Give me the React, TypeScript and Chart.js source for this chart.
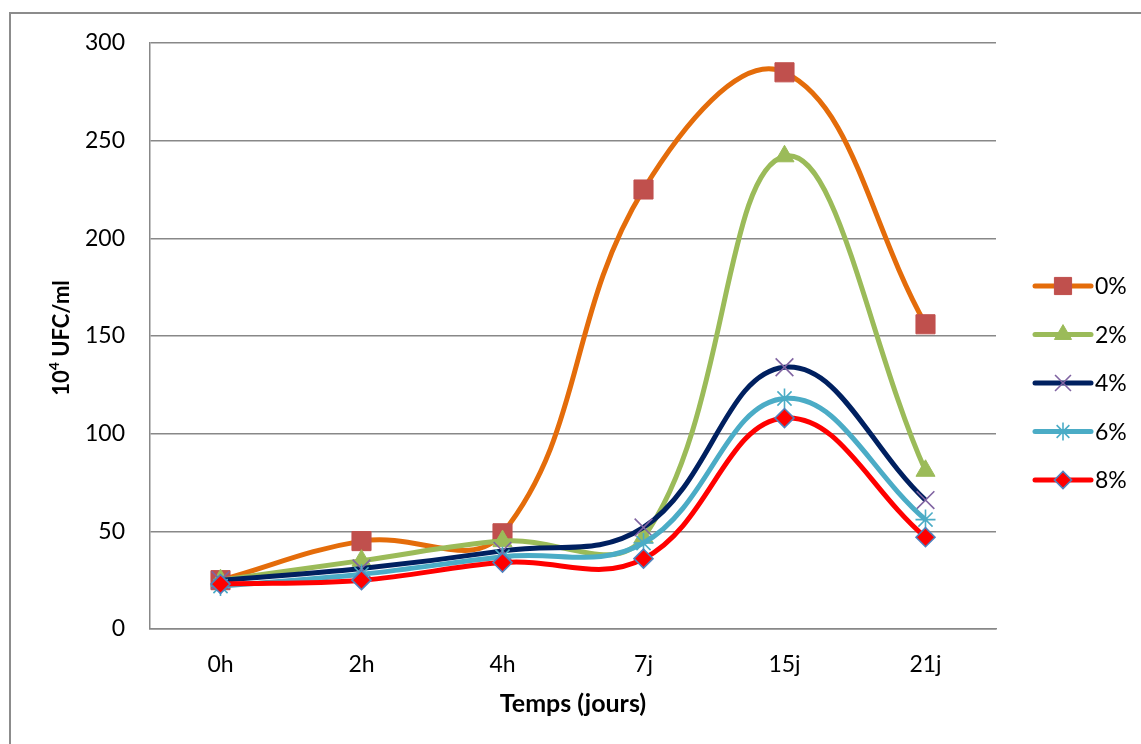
import React, { useEffect, useRef } from "react";
import { Chart, registerables } from "chart.js";
import { drawPoint } from "chart.js/helpers";

Chart.register(...registerables);

// Sampling times
const categories = ["0h", "2h", "4h", "7j", "15j", "21j"];

// Counts (10^4 UFC/ml) per concentration
const series0 = [25, 45, 49, 225, 285, 156];
const series2 = [25, 35, 45, 47, 242, 81];
const series4 = [25, 31, 40, 52, 134, 66];
const series6 = [22, 28, 37, 44, 118, 56];
const series8 = [23, 25, 34, 36, 108, 47];

const seriesLabels = ["0%", "2%", "4%", "6%", "8%"];
const yTicks = [0, 50, 100, 150, 200, 250, 300];

const FONT = "Lato, 'Open Sans', 'DejaVu Sans', sans-serif";
const GRID = "#888888";
const LINE_WIDTH = 5;

type Style = {
  line: string;
  pointStyle: string;
  radius: number;
  fill: string;
  stroke: string;
  strokeWidth: number;
};

const styles: Style[] = [
  { line: "#E46C0A", pointStyle: "rect", radius: 13.5, fill: "#C0504D", stroke: "#C0504D", strokeWidth: 1 },
  { line: "#9BBB59", pointStyle: "triangle", radius: 11, fill: "#9BBB59", stroke: "#9BBB59", strokeWidth: 1 },
  { line: "#002060", pointStyle: "crossRot", radius: 12.5, fill: "#8064A2", stroke: "#8064A2", strokeWidth: 1.6 },
  { line: "#4BACC6", pointStyle: "star", radius: 10, fill: "#4BACC6", stroke: "#4BACC6", strokeWidth: 1.6 },
  { line: "#FF0000", pointStyle: "rectRot", radius: 9.5, fill: "#FF0000", stroke: "#4F81BD", strokeWidth: 1.6 },
];

// Axis titles and the line+marker legend on the right
const decorations = {
  id: "decorations",
  afterDraw(chart: any) {
    const { ctx, chartArea } = chart;
    ctx.save();
    ctx.fillStyle = "#000";

    // x title
    ctx.font = `bold 25px ${FONT}`;
    ctx.textAlign = "center";
    ctx.textBaseline = "middle";
    ctx.fillText("Temps (jours)", (chartArea.left + chartArea.right) / 2, 704);

    // y title with superscript exponent
    ctx.save();
    ctx.translate(61, (chartArea.top + chartArea.bottom) / 2 + 2);
    ctx.rotate(-Math.PI / 2);
    const big = `bold 22px ${FONT}`;
    const small = `bold 14px ${FONT}`;
    ctx.font = big;
    const w1 = ctx.measureText("10").width;
    const w3 = ctx.measureText(" UFC/ml").width;
    ctx.font = small;
    const w2 = ctx.measureText("4").width;
    let x = -(w1 + w2 + w3) / 2;
    ctx.textAlign = "left";
    ctx.textBaseline = "alphabetic";
    ctx.font = big;
    ctx.fillText("10", x, 8);
    x += w1;
    ctx.font = small;
    ctx.fillText("4", x, -2);
    x += w2;
    ctx.font = big;
    ctx.fillText(" UFC/ml", x, 8);
    ctx.restore();

    // legend
    const x0 = 1035;
    const x1 = 1091;
    const yStart = 286;
    const gap = 48.5;
    seriesLabels.forEach((label, i) => {
      const s = styles[i];
      const y = yStart + i * gap;
      ctx.strokeStyle = s.line;
      ctx.lineWidth = LINE_WIDTH;
      ctx.lineCap = "round";
      ctx.beginPath();
      ctx.moveTo(x0, y);
      ctx.lineTo(x1, y);
      ctx.stroke();
      ctx.lineCap = "butt";
      ctx.fillStyle = s.fill;
      ctx.strokeStyle = s.stroke;
      ctx.lineWidth = s.strokeWidth;
      drawPoint(ctx, { pointStyle: s.pointStyle as any, radius: s.radius * 0.9, rotation: 0, borderWidth: s.strokeWidth }, (x0 + x1) / 2, y);
      ctx.fillStyle = "#000";
      ctx.font = `23px ${FONT}`;
      ctx.textAlign = "left";
      ctx.textBaseline = "middle";
      ctx.fillText(label, 1095, y + 1);
    });
    ctx.restore();
  },
};

export default function App() {
  const canvasRef = useRef<HTMLCanvasElement | null>(null);

  useEffect(() => {
    const canvas = canvasRef.current;
    if (!canvas) return;
    const values = [series0, series2, series4, series6, series8];
    const chart = new Chart(canvas, {
      type: "line",
      data: {
        labels: categories,
        datasets: values.map((data, i) => {
          const s = styles[i];
          return {
            label: seriesLabels[i],
            data,
            order: values.length - i,
            borderColor: s.line,
            borderWidth: LINE_WIDTH,
            tension: 0.4,
            fill: false,
            pointStyle: s.pointStyle as any,
            pointRadius: s.radius,
            pointBackgroundColor: s.fill,
            pointBorderColor: s.stroke,
            pointBorderWidth: s.strokeWidth,
            pointHoverRadius: s.radius,
          };
        }),
      },
      options: {
        responsive: false,
        animation: false,
        events: [],
        layout: { padding: { left: 0, top: 43, right: 145, bottom: 0 } },
        plugins: {
          legend: { display: false },
          tooltip: { enabled: false },
          title: { display: false },
        },
        scales: {
          x: {
            type: "category",
            offset: true,
            grid: { display: true, color: "rgba(0,0,0,0)", drawTicks: false },
            border: { display: true, color: GRID, width: 1.5 },
            ticks: { color: "#000", font: { family: FONT, size: 23 }, padding: 22 },
            afterFit(scale: any) {
              scale.height = 115;
              scale.paddingLeft = 0;
              scale.paddingRight = 0;
            },
          },
          y: {
            min: 0,
            max: 300,
            afterBuildTicks(scale: any) {
              scale.ticks = yTicks.map((v) => ({ value: v }));
            },
            grid: { color: GRID, lineWidth: 1.5, drawTicks: false },
            border: { display: true, color: GRID, width: 1.5 },
            ticks: { color: "#000", font: { family: FONT, size: 23 }, padding: 25 },
            afterFit(scale: any) {
              scale.width = 150;
              scale.paddingTop = 0;
              scale.paddingBottom = 0;
            },
          },
        },
      },
      plugins: [decorations],
    });
    return () => chart.destroy();
  }, []);

  return (
    <div style={{ position: "fixed", left: 0, top: 0, width: 1141, height: 744, overflow: "hidden", background: "#fff" }}>
      <div
        style={{
          position: "absolute",
          left: 9,
          top: 12,
          width: 1200,
          height: 800,
          border: "2px solid #8c8c8c",
          boxSizing: "border-box",
        }}
      />
      <canvas ref={canvasRef} width={1141} height={744} style={{ position: "absolute", left: 0, top: 0, display: "block" }} />
    </div>
  );
}
